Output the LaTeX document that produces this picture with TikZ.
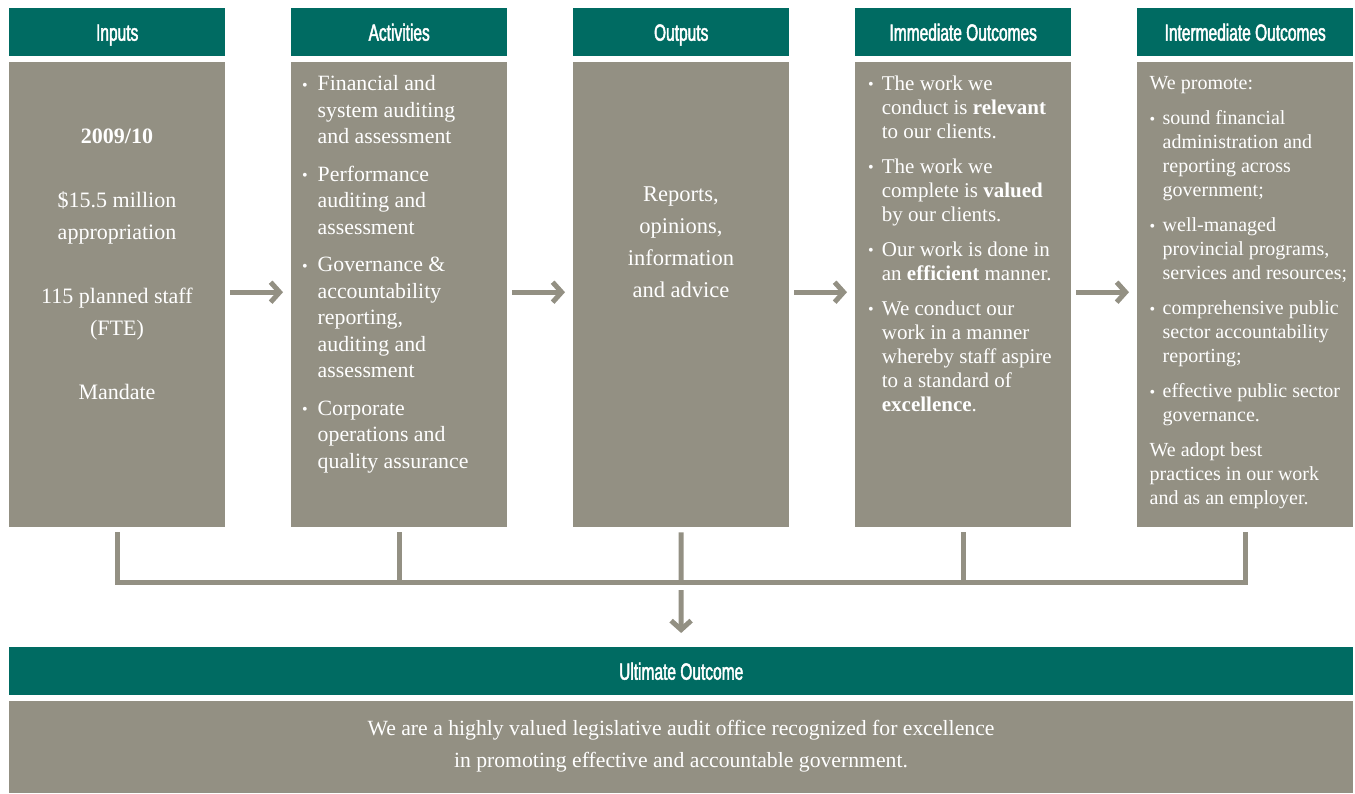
\documentclass[tikz,border=0pt]{standalone}
\usepackage{fontspec}
\setmainfont{Liberation Serif}
\newfontfamily\hdrfont[FakeStretch=0.66,FakeBold=2]{Liberation Sans}
\usetikzlibrary{arrows.meta}
\definecolor{hdrteal}{HTML}{006B62}
\definecolor{boxgray}{HTML}{939083}
\newdimen\bulw
\bulw=15pt
\newcommand\bitem[1]{\par\hangindent=\bulw\hangafter=1\noindent\makebox[\bulw][l]{\raisebox{0.2pt}{\fontsize{16}{14}\selectfont\textbullet}}#1\par}
\begin{document}
\begin{tikzpicture}[x=1pt,y=-1pt,
  hdr/.style={fill=hdrteal, text=white, minimum width=216pt, minimum height=48pt, inner sep=0pt, anchor=north west,
    font=\hdrfont\fontsize{23.5}{24}\selectfont, text height=17pt, text depth=0pt},
  body/.style={fill=boxgray, minimum width=216pt, minimum height=465pt, inner sep=0pt, anchor=north west},
  txt/.style={text=white, inner sep=0pt, anchor=base west},
  conn/.style={draw=boxgray, line width=5pt},
  arr/.style={conn, -{Straight Barb[length=9pt,width=20pt]}}]
\useasboundingbox (0,0) rectangle (1355,793);

% headers
\node[hdr] (h1) at (9,8) {Inputs};
\node[hdr] (h2) at (291,8) {Activities};
\node[hdr] (h3) at (573,8) {Outputs};
\node[hdr] (h4) at (855,8) {Immediate Outcomes};
\node[hdr] (h5) at (1137,8) {Intermediate Outcomes};

% bodies
\node[body] (b1) at (9,62) {};
\node[body] (b2) at (291,62) {};
\node[body] (b3) at (573,62) {};
\node[body] (b4) at (855,62) {};
\node[body] (b5) at (1137,62) {};

% ultimate
\node[hdr, minimum width=1344pt] (hu) at (9,647) {Ultimate Outcome};
\node[body, minimum width=1344pt, minimum height=92pt] (bu) at (9,701) {};

% texts
\node[txt, anchor=base] (t1) at (117,143.3) {\parbox[t]{210pt}{\centering\fontsize{22}{32}\selectfont
  \textbf{2009/10}\\[32pt] \$15.5 million\\ appropriation\\[32pt] 115 planned staff\\ (FTE)\\[32pt] Mandate}};

\node[txt] (t2) at (302,90.5) {\parbox[t]{260pt}{\raggedright\fontsize{21.8}{26.5}\selectfont\parskip=11pt\bulw=15.5pt
  \bitem{Financial and\newline system auditing\newline and assessment}
  \bitem{Performance\newline auditing and\newline assessment}
  \bitem{Governance \&\newline accountability\newline reporting,\newline auditing and\newline assessment}
  \bitem{Corporate\newline operations and\newline quality assurance}}};

\node[txt, anchor=base] (t3) at (681,201.7) {\parbox[t]{210pt}{\centering\fontsize{22.5}{32}\selectfont
  Reports,\\ opinions,\\ information\\ and advice}};

\node[txt] (t4) at (868,90) {\parbox[t]{260pt}{\raggedright\fontsize{21}{24}\selectfont\parskip=11pt\bulw=13.7pt
  \bitem{The work we\newline conduct is \textbf{relevant}\newline to our clients.}
  \bitem{The work we\newline complete is \textbf{valued}\newline by our clients.}
  \bitem{Our work is done in\newline an \textbf{efficient} manner.}
  \bitem{We conduct our\newline work in a manner\newline whereby staff aspire\newline to a standard of\newline \textbf{excellence}.}}};

\node[txt] (t5) at (1149.5,89.5) {\parbox[t]{260pt}{\raggedright\fontsize{20}{24}\selectfont\parskip=11pt\bulw=13pt
  \noindent We promote:\par
  \bitem{sound financial\newline administration and\newline reporting across\newline government;}
  \bitem{well-managed\newline provincial programs,\newline services and resources;}
  \bitem{comprehensive public\newline sector accountability\newline reporting;}
  \bitem{effective public sector\newline governance.}
  \noindent We adopt best\newline practices in our work\newline and as an employer.}};

\node[txt, anchor=base] (tu) at (681,735) {\parbox[t]{1000pt}{\centering\fontsize{21.7}{32}\selectfont
  We are a highly valued legislative audit office recognized for excellence\\ in promoting effective and accountable government.}};

% connectors
\draw[arr, shorten <=5pt, shorten >=8pt] ([yshift=2.5pt]b1.east) -- ([yshift=2.5pt]b2.west);
\draw[arr, shorten <=5pt, shorten >=8pt] ([yshift=2.5pt]b2.east) -- ([yshift=2.5pt]b3.west);
\draw[arr, shorten <=5pt, shorten >=8pt] ([yshift=2.5pt]b3.east) -- ([yshift=2.5pt]b4.west);
\draw[arr, shorten <=5pt, shorten >=8pt] ([yshift=2.5pt]b4.east) -- ([yshift=2.5pt]b5.west);

\coordinate (bar) at (681,582);
\draw[conn, shorten <=5pt, shorten >=5pt] (b1.south) |- (bar) -| (b5.south);
\draw[conn, shorten <=5pt] (b2.south) -- (b2.south |- bar);
\draw[conn, shorten <=5pt] (b3.south) -- (bar);
\draw[conn, shorten <=5pt] (b4.south) -- (b4.south |- bar);
\draw[arr, shorten <=8pt, shorten >=14pt] (bar) -- (hu.north);
\end{tikzpicture}
\end{document}
